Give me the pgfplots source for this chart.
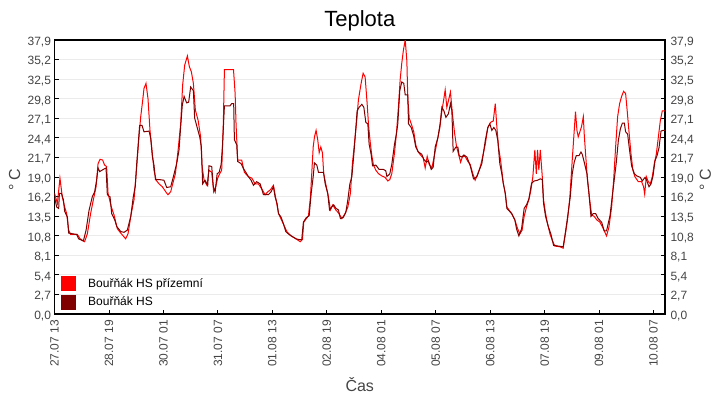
\documentclass[border=0pt]{standalone}
\usepackage{fontspec}
\setmainfont{Liberation Sans}
\usepackage{pgfplots}
\pgfplotsset{compat=1.18}
\usepackage{pgfplotstable}
\definecolor{sred}{HTML}{FF0000}
\definecolor{sdark}{HTML}{800000}
\definecolor{tickgray}{HTML}{444444}
\definecolor{gridgray}{HTML}{EBEBEB}

\pgfplotstableread{
h v
0 16.7
1.6 15.3
3.0 18.8
4.3 16.2
5.6 14.8
6.7 13.9
7.8 11.6
8.9 11.0
12.6 11.0
14.1 10.4
16.6 10.0
18.1 11.1
19.9 13.9
21.4 15.8
22.9 17.6
24.0 20.8
25.1 21.4
26.5 21.3
27.6 20.6
28.7 20.4
29.5 16.7
31.3 14.8
32.8 13.7
34.6 11.8
36.8 11.1
39.2 10.4
40.5 11.1
42.3 13.9
43.8 15.8
45.3 20.4
46.4 24.1
47.5 27.3
48.6 29.6
49.3 31.2
50.4 31.9
51.5 29.8
52.6 25.4
53.7 22.7
54.8 19.9
56.0 18.5
57.6 18.0
59.4 17.6
61.3 16.9
62.5 16.5
64.0 16.9
65.1 18.0
66.6 19.4
68.1 22.7
69.5 26.3
70.6 31.7
71.7 34.4
73.2 35.7
74.3 34.2
75.4 33.5
76.5 31.9
77.6 28.2
79.1 26.8
80.5 24.5
81.3 20.4
82.4 18.5
84.0 17.8
85.1 19.9
86.6 19.6
87.7 16.9
88.8 17.6
89.9 18.8
91.0 19.4
92.1 19.9
93.0 26.3
93.6 33.8
98.6 33.8
99.5 30.5
100.0 26.3
100.9 21.3
103.1 21.3
104.6 19.6
106.8 19.0
108.7 18.8
110.5 18.0
112.3 18.0
114.2 17.3
116.0 16.5
117.5 16.9
119.0 17.2
120.6 17.8
121.9 16.0
123.4 13.9
125.6 12.7
128.0 11.4
130.3 10.8
132.5 10.5
135.3 10.0
136.6 10.3
137.3 12.7
139.9 13.6
141.0 16.2
141.7 19.4
142.5 23.1
143.2 24.5
144.1 25.4
145.0 24.1
145.8 22.3
146.7 23.1
147.6 22.3
148.3 19.4
149.4 18.0
150.9 16.2
152.0 14.4
153.3 15.1
154.9 14.4
156.4 14.0
158.3 13.2
160.1 13.9
161.6 14.8
163.0 16.7
164.1 20.8
165.0 23.0
166.5 26.8
167.4 29.6
168.9 31.9
170.0 33.3
171.1 32.8
172.2 29.2
173.0 26.1
173.9 23.8
174.8 21.9
175.7 20.6
177.0 19.9
178.5 19.4
180.3 19.1
182.1 18.9
183.6 18.4
184.7 18.6
185.8 19.4
187.3 22.3
188.4 25.1
189.5 28.8
190.4 32.4
191.3 34.7
192.2 36.5
193.2 37.9
194.1 35.0
194.6 29.9
195.4 27.1
196.8 26.1
197.9 25.2
199.0 23.4
200.1 22.5
201.6 22.0
203.1 21.6
204.2 20.2
205.3 21.8
206.4 20.7
207.9 20.2
209.0 21.6
210.1 23.0
211.2 24.4
212.3 25.8
213.4 28.1
214.5 29.8
215.2 31.0
216.1 28.6
217.0 29.5
218.1 30.7
219.2 27.7
220.4 25.0
221.5 23.1
222.6 22.1
223.7 21.0
224.8 21.8
226.2 21.8
227.7 21.1
229.0 20.7
230.3 19.5
231.7 18.5
233.2 19.4
234.7 20.5
235.8 21.7
237.3 23.5
238.7 25.8
240.2 26.5
241.7 26.7
242.8 29.1
243.7 25.8
244.6 23.1
245.7 21.3
246.4 19.9
247.2 18.1
248.3 16.7
249.2 14.8
251.8 13.9
253.6 13.0
255.1 11.8
256.4 11.1
257.6 11.6
258.7 13.5
260.0 14.8
261.3 15.8
262.4 17.1
263.5 19.0
264.6 22.7
265.4 19.4
266.1 22.7
266.8 19.9
267.6 22.7
268.7 19.0
269.4 15.8
270.5 13.9
271.6 12.5
272.9 11.1
274.2 10.2
275.6 9.4
278.4 9.3
280.2 9.1
281.2 10.7
282.6 13.0
283.9 16.2
285.2 21.3
286.3 25.4
287.0 28.0
287.8 25.4
288.5 24.5
289.4 25.2
290.3 25.9
291.3 27.3
291.8 24.9
292.5 22.3
293.6 18.5
294.8 15.8
295.9 13.7
297.3 13.5
298.8 13.0
300.5 12.7
302.3 11.8
304.1 10.8
305.4 12.0
306.9 14.8
308.0 18.5
309.1 23.1
310.2 27.3
311.3 29.1
312.4 30.1
313.5 30.8
314.6 30.5
315.3 28.6
316.4 25.4
317.5 22.3
318.6 19.9
319.7 19.0
321.6 18.3
323.4 18.3
324.5 17.6
325.1 16.6
326.0 19.0
327.1 18.3
328.2 18.0
329.3 19.0
330.4 20.8
331.5 22.1
332.6 24.4
333.7 26.7
334.8 28.1
336.3 28.1
}\redtab

\pgfplotstableread{
h v
0 16.2
1.2 14.8
2.3 14.6
2.7 16.7
3.8 16.7
4.9 15.8
5.6 14.2
7.1 13.4
7.8 11.2
9.8 11.1
12.2 11.0
13.3 10.4
15.9 10.1
17.4 11.6
19.0 14.3
20.8 16.2
22.1 16.9
23.2 18.5
24.0 20.2
24.9 19.7
26.9 20.0
28.4 20.2
29.1 16.5
30.6 16.2
31.5 13.9
33.2 13.0
34.3 12.1
36.5 11.4
38.3 11.3
40.1 11.6
42.0 13.5
43.4 16.2
44.5 17.7
45.3 20.8
46.0 23.1
46.9 26.1
48.2 26.1
49.3 25.2
52.1 25.3
53.0 24.3
53.9 21.8
54.8 20.6
55.6 18.6
57.6 18.6
60.3 18.5
61.8 17.5
64.0 17.6
65.5 19.0
67.3 20.8
68.6 22.7
69.5 25.9
70.4 28.9
71.4 30.1
72.8 29.2
73.9 29.3
75.0 31.4
76.5 30.9
77.2 27.1
78.7 25.7
80.0 24.5
80.9 23.1
81.6 18.0
82.9 18.5
84.4 17.8
85.1 20.5
86.6 20.4
87.5 17.6
88.5 16.9
89.6 19.4
90.7 19.6
91.8 20.7
92.5 23.1
93.6 28.8
96.7 28.8
97.6 29.1
98.7 29.1
99.1 24.1
100.4 23.4
100.9 21.1
102.8 20.8
104.1 20.1
105.4 19.6
106.8 19.0
108.3 18.5
109.6 17.8
111.4 18.3
113.3 18.0
115.1 16.5
117.8 16.5
119.3 16.9
120.6 17.6
121.5 16.2
122.6 15.3
123.4 13.9
124.8 13.4
126.1 12.5
127.4 11.4
129.2 11.0
131.1 10.7
132.9 10.4
134.9 10.3
136.2 10.3
137.1 12.7
138.6 13.3
140.3 13.6
141.4 16.7
142.5 19.0
143.2 20.9
144.5 20.6
145.4 19.6
148.2 19.6
149.1 18.0
150.5 16.7
151.5 14.4
152.7 14.8
153.8 15.1
155.1 14.6
156.4 14.4
157.5 13.2
159.2 13.4
160.5 14.1
161.6 15.8
162.7 18.0
163.8 19.0
164.9 22.1
165.6 24.4
166.7 28.1
167.8 28.6
169.3 29.0
170.4 28.6
171.5 26.5
172.6 26.3
173.3 23.5
174.4 22.1
175.2 20.5
177.0 20.6
178.8 20.0
181.2 20.0
182.5 19.8
183.1 19.0
184.7 19.4
185.8 20.7
187.3 23.5
188.4 25.0
189.1 26.3
190.2 30.9
191.3 32.1
192.4 31.9
193.2 30.3
194.6 30.3
195.0 26.3
196.5 25.8
197.8 24.7
199.0 23.1
200.5 22.4
202.3 22.1
203.4 21.4
204.9 21.0
206.0 21.2
207.5 20.0
208.6 20.3
209.7 23.1
211.2 24.4
212.4 26.3
213.4 28.6
214.5 28.1
215.6 27.2
217.0 27.7
218.1 29.1
218.9 28.1
219.6 22.5
221.1 23.1
222.2 23.1
222.9 21.9
224.4 21.7
225.5 22.0
227.2 21.7
229.0 20.5
230.8 18.7
232.7 19.0
234.0 19.9
235.4 20.8
237.3 24.0
238.7 25.8
239.8 26.3
240.9 25.4
242.0 25.8
243.1 25.4
244.2 24.0
245.3 20.8
246.4 19.4
247.2 18.1
248.3 16.7
249.2 14.6
251.8 13.9
253.6 13.0
254.5 11.8
255.8 10.8
257.3 11.8
258.7 14.6
260.0 15.1
261.3 15.9
262.8 18.1
264.3 18.4
266.1 18.5
267.6 18.7
268.7 18.6
269.4 15.3
270.5 13.5
272.0 12.1
273.4 11.1
274.9 9.5
277.5 9.4
280.2 9.3
281.5 11.4
283.0 14.1
284.1 16.2
285.2 19.4
286.3 21.0
287.4 21.9
288.9 21.9
290.0 22.4
290.7 22.1
291.8 21.0
293.3 19.4
294.4 16.7
295.5 13.5
296.8 13.9
298.1 13.9
299.5 13.2
301.4 12.7
302.8 11.5
304.1 11.5
306.0 13.6
307.2 16.2
308.3 18.5
309.4 20.8
310.6 24.0
311.7 25.6
312.8 26.4
313.9 26.4
314.6 25.2
315.7 24.9
316.8 22.6
317.9 20.5
319.4 19.4
320.8 19.1
322.7 18.9
323.8 18.4
325.3 18.9
326.3 18.4
327.5 17.6
328.6 18.0
329.7 19.1
330.8 21.2
331.9 21.9
333.0 23.0
334.1 25.3
335.2 25.4
336.3 25.4
}\darktab

\pgfplotsset{
  myy/.style={
    ytick={0,2.7071,5.4143,8.1214,10.8286,13.5357,16.2429,18.95,21.6571,24.3643,27.0714,29.7786,32.4857,35.1929,37.9},
    yticklabels={{0,0},{2,7},{5,4},{8,1},{10,8},{13,5},{16,2},{19,0},{21,7},{24,4},{27,1},{29,8},{32,5},{35,2},{37,9}},
    yticklabel style={font=\fontsize{12bp}{14bp}\selectfont, text=tickgray, yshift=-2bp},
  },
  mybox/.style={
    at={(54.5bp,-314bp)}, anchor=south west,
    scale only axis, width=610.5bp, height=274bp,
    xmin=0, xmax=336.3, ymin=0, ymax=37.9,
  }
}

\begin{document}
\begin{tikzpicture}
\path[use as bounding box] (0,0) rectangle (720bp,-400bp);
\begin{axis}[
  mybox, myy,
  axis line style={black, line width=1.2bp},
  tick align=inside, major tick length=4bp,
  tick style={black, line width=0.8bp},
  xtick={0,30,60,90,120,150,180,210,240,270,300,330},
  xticklabels={27.07 13,28.07 19,30.07 01,31.07 07,01.08 13,02.08 19,04.08 01,05.08 07,06.08 13,07.08 19,09.08 01,10.08 07},
  xtick pos=bottom,
  xticklabel style={rotate=90, anchor=east, font=\fontsize{12bp}{14bp}\selectfont, text=tickgray, inner sep=0pt},
  xticklabel shift=6bp,
  ymajorgrids, grid style={gridgray, line width=0.8bp},
  title={Teplota},
  title style={at={(axis description cs:0.5,1.0292)}, anchor=base, yshift=0pt, font=\fontsize{22bp}{26bp}\selectfont},
  xlabel={Čas},
  xlabel style={at={(axis description cs:0.5,-0.281)}, anchor=base, font=\fontsize{16bp}{19bp}\selectfont, text=tickgray},
  ylabel={° C},
  ylabel style={at={(axis description cs:-0.0565,0.49)}, anchor=base, font=\fontsize{16bp}{19bp}\selectfont, text=tickgray},
  legend style={at={(axis description cs:0,0)}, anchor=south west, xshift=6.5bp, yshift=4bp,
    draw=none, fill=none, inner sep=0pt, row sep=3.5bp, column sep=12bp,
    font=\fontsize{12bp}{14bp}\selectfont, nodes={inner sep=0pt}},
  legend cell align=left,
  legend image code/.code={\fill[#1] (0bp,-7bp) rectangle (14bp,7bp);},
]
\addplot[sred, line width=1bp] table {\redtab};
\addlegendentry{Bouřňák HS přízemní}
\addplot[sdark, line width=1bp] table {\darktab};
\addlegendentry{Bouřňák HS}
\end{axis}
\begin{axis}[
  mybox, myy,
  axis line style={draw=none},
  tick style={draw=none},
  xtick=\empty,
  yticklabel pos=right,
  yticklabel style={xshift=2bp},
  ylabel={° C},
  ylabel style={at={(axis description cs:1.0753,0.49)}, anchor=base, font=\fontsize{16bp}{19bp}\selectfont, text=tickgray},
]
\end{axis}
\end{tikzpicture}
\end{document}
